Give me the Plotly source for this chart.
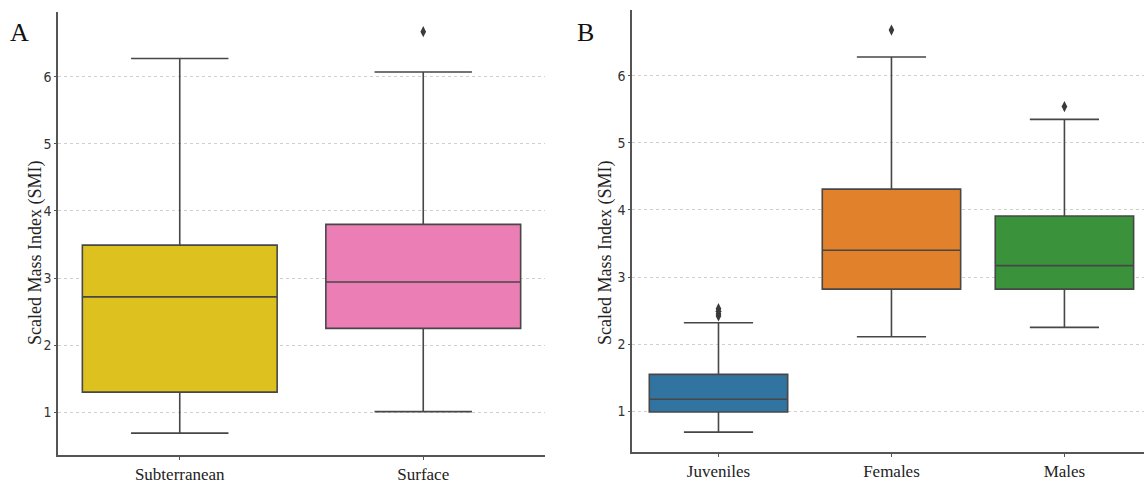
import plotly.graph_objects as go

W, H = 1144, 484

# Panel A data (five-number summaries)
habitat = ["Subterranean", "Surface"]
habitat_q1 = [1.30, 2.25]
habitat_median = [2.72, 2.94]
habitat_q3 = [3.49, 3.80]
habitat_low = [0.69, 1.01]
habitat_high = [6.27, 6.07]
habitat_colors = ["#DDC21F", "#EB7EB4"]
habitat_out_x = ["Surface"]
habitat_out_y = [6.67]

# Panel B data
stage = ["Juveniles", "Females", "Males"]
stage_q1 = [0.99, 2.82, 2.82]
stage_median = [1.18, 3.40, 3.17]
stage_q3 = [1.55, 4.31, 3.91]
stage_low = [0.69, 2.11, 2.25]
stage_high = [2.32, 6.28, 5.35]
stage_colors = ["#3274A1", "#E1812C", "#3A923A"]
stage_out_x = ["Juveniles", "Juveniles", "Juveniles", "Juveniles", "Females", "Males"]
stage_out_y = [2.42, 2.45, 2.49, 2.53, 6.68, 5.54]

yticks = [1, 2, 3, 4, 5, 6]

LINE = "#474747"
fig = go.Figure()

def add_boxes(cats, q1, med, q3, lo, hi, colors, xa, ya):
    for i, c in enumerate(cats):
        fig.add_trace(go.Box(
            x=[c], q1=[q1[i]], median=[med[i]], q3=[q3[i]],
            lowerfence=[lo[i]], upperfence=[hi[i]],
            fillcolor=colors[i], line=dict(color=LINE, width=1.6),
            width=0.8, whiskerwidth=0.5, boxpoints=False,
            xaxis=xa, yaxis=ya, showlegend=False, hoverinfo="skip"))

add_boxes(habitat, habitat_q1, habitat_median, habitat_q3, habitat_low, habitat_high,
          habitat_colors, "x", "y")
add_boxes(stage, stage_q1, stage_median, stage_q3, stage_low, stage_high,
          stage_colors, "x2", "y2")

fig.add_trace(go.Scatter(x=habitat_out_x, y=habitat_out_y, mode="markers",
                         marker=dict(symbol="diamond-tall", size=8, color="#3a3a3a"),
                         xaxis="x", yaxis="y", showlegend=False))
fig.add_trace(go.Scatter(x=stage_out_x, y=stage_out_y, mode="markers",
                         marker=dict(symbol="diamond-tall", size=8, color="#3a3a3a"),
                         xaxis="x2", yaxis="y2", showlegend=False))

serif = "Liberation Serif, Times New Roman, serif"
cond = "Liberation Sans Narrow, DejaVu Sans Condensed, sans-serif"

def xax(domain, cats, rng):
    return dict(domain=domain, type="category", categoryorder="array", categoryarray=cats,
                range=rng, showline=True, linecolor="#555555", linewidth=1.5,
                ticks="outside", ticklen=3, tickcolor="#555555",
                tickfont=dict(family=serif, size=17, color="#222222"),
                showgrid=False, zeroline=False, fixedrange=True)

def yax(domain, rng, anchor):
    return dict(domain=domain, range=rng, anchor=anchor, tickvals=yticks,
                showline=True, linecolor="#555555", linewidth=1.5,
                ticks="outside", ticklen=2, tickcolor="#555555",
                tickfont=dict(family=cond, size=14, color="#333333"),
                showgrid=True, gridcolor="#d0d0d0", griddash="dot", gridwidth=1,
                zeroline=False, fixedrange=True)

fig.update_layout(
    width=W, height=H, margin=dict(l=0, r=0, t=0, b=0),
    plot_bgcolor="white", paper_bgcolor="white", boxmode="overlay",
    xaxis=xax([58 / W, 545 / W], habitat, [-0.5, 1.5]) | dict(anchor="y"),
    yaxis=yax([1 - 457 / H, 1 - 12 / H], [0.362, 6.964], "x"),
    xaxis2=xax([632 / W, 1.0], stage, [-0.5, 2.46]) | dict(anchor="y2"),
    yaxis2=yax([1 - 454 / H, 1 - 10 / H], [0.392, 6.98], "x2"),
    annotations=[
        dict(text="Scaled Mass Index (SMI)", x=36 / W, y=1 - 254 / H, xref="paper", yref="paper",
             textangle=-90, showarrow=False, xanchor="center", yanchor="middle",
             font=dict(family=serif, size=18, color="#222222")),
        dict(text="Scaled Mass Index (SMI)", x=606 / W, y=1 - 254 / H, xref="paper", yref="paper",
             textangle=-90, showarrow=False, xanchor="center", yanchor="middle",
             font=dict(family=serif, size=18, color="#222222")),
        dict(text="A", x=19 / W, y=1 - 33 / H, xref="paper", yref="paper", showarrow=False,
             xanchor="center", yanchor="middle", font=dict(family=serif, size=26, color="#111111")),
        dict(text="B", x=585 / W, y=1 - 33 / H, xref="paper", yref="paper", showarrow=False,
             xanchor="center", yanchor="middle", font=dict(family=serif, size=26, color="#111111")),
    ],
)

fig.write_html("out.html", config={"displayModeBar": False},
               post_script="document.body.style.margin='0px';document.body.style.overflow='hidden';")
